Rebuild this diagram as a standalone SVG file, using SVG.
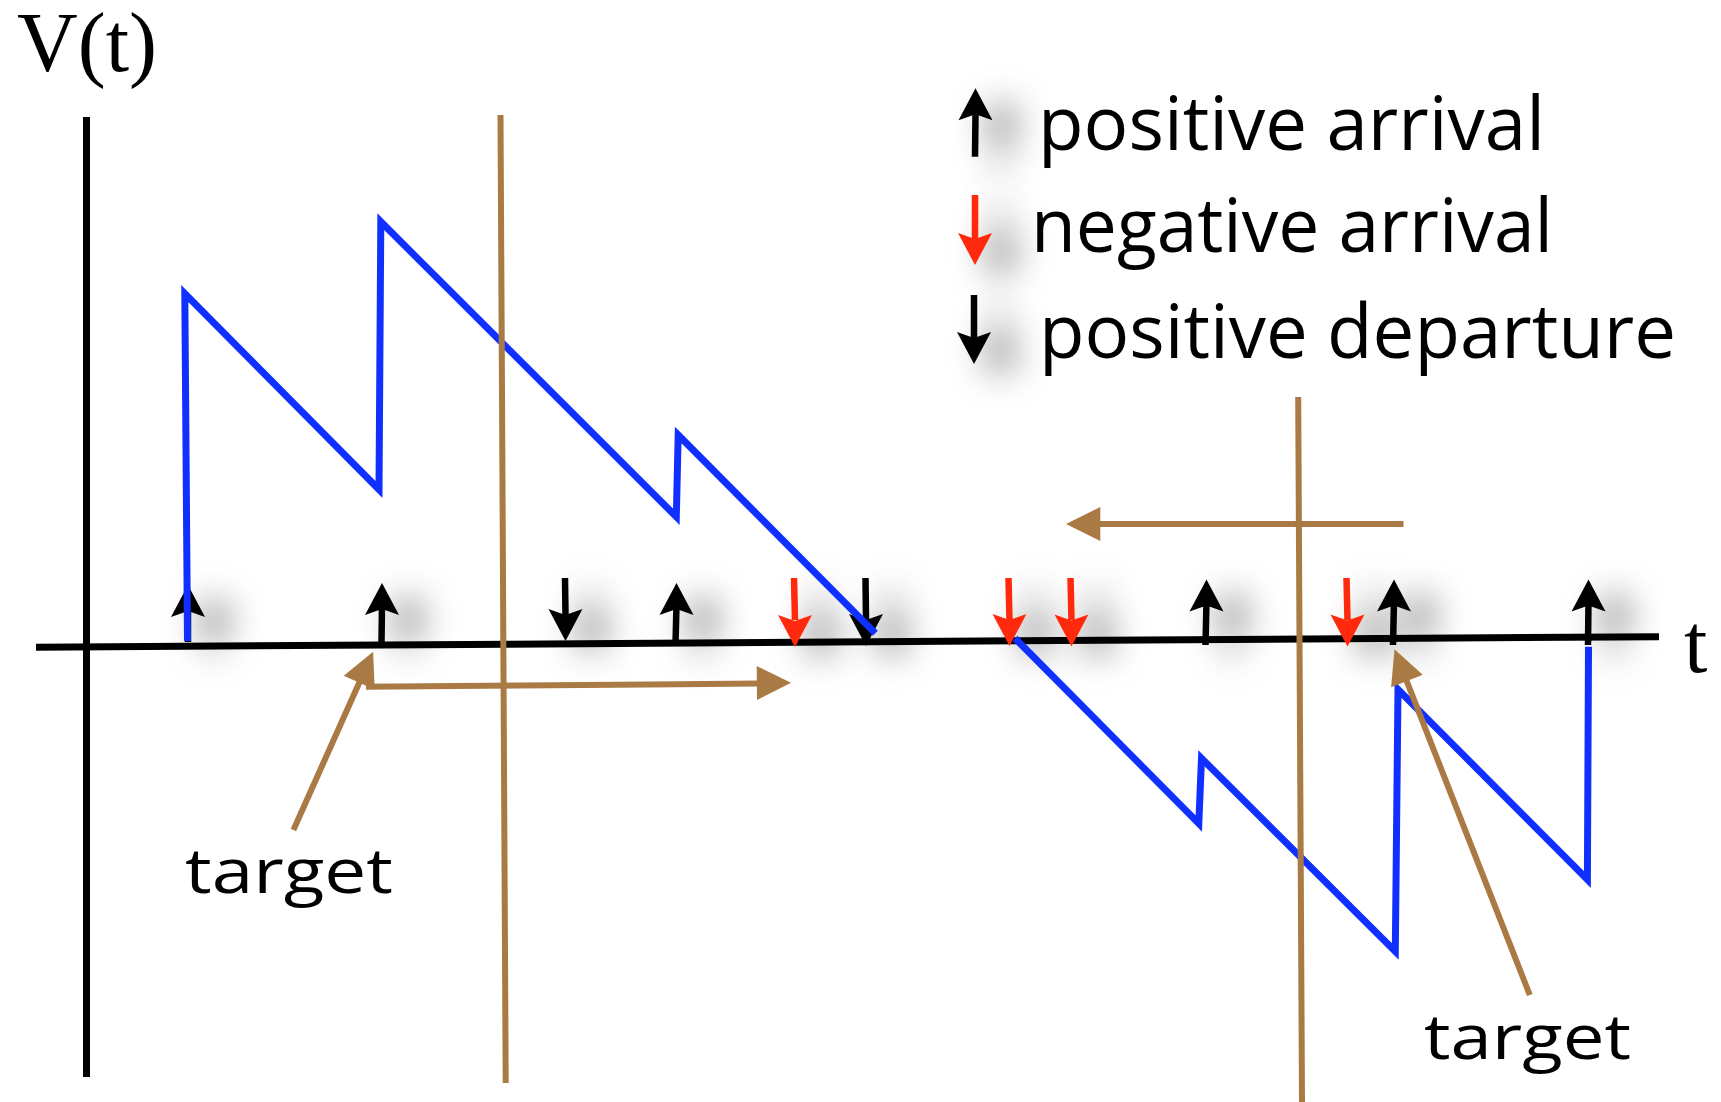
<svg xmlns="http://www.w3.org/2000/svg" width="1721" height="1102" viewBox="0 0 1721 1102">
<defs>
<style>
.ax{stroke:#000;stroke-width:7;fill:none}
.blue{stroke:#1030ff;stroke-width:7;fill:none;stroke-linejoin:miter}
.br{stroke:#a97a44;stroke-width:6;fill:none}
.brf{fill:#a97a44}
.blk{stroke:#000;stroke-width:6.5}
.blkf{fill:#000}
.red{stroke:#ff2a08;stroke-width:6.5}
.redf{fill:#ff2a08}
.lab{font-family:"Open Sans","Noto Sans","DejaVu Sans",sans-serif;fill:#000}
.ser{font-family:"Liberation Serif","Times New Roman",serif;fill:#000}
</style>
<filter id="sh" x="-300%" y="-150%" width="700%" height="400%">
<feDropShadow dx="26" dy="12" stdDeviation="18" flood-color="#000" flood-opacity="0.75"/>
</filter>
<path id="hUp" d="M0,0 L17,32 L0,26 L-17,32 Z"/>
</defs>
<rect width="1721" height="1102" fill="#fff"/>

<g id="axes">
<line class="ax" x1="86.5" y1="117" x2="86.5" y2="1077"/>
<line class="ax" x1="36" y1="647.2" x2="1659" y2="636.7"/>
<text class="ser" x="17" y="71" font-size="84">V(t)</text>
<text class="ser" x="1684" y="672" font-size="84">t</text>
</g>

<g id="events" filter="url(#sh)">
<g id="up1"><line class="blk" x1="188" y1="642" x2="188" y2="605"/><use href="#hUp" class="blkf" transform="translate(188,585)"/></g>
<g id="up2"><line class="blk" x1="381.5" y1="642" x2="382" y2="605"/><use href="#hUp" class="blkf" transform="translate(382,583)"/></g>
<g id="dn1"><line class="blk" x1="565" y1="578" x2="565.5" y2="615"/><use href="#hUp" class="blkf" transform="translate(565.5,641) rotate(180)"/></g>
<g id="up3"><line class="blk" x1="675.5" y1="644" x2="676.5" y2="605"/><use href="#hUp" class="blkf" transform="translate(676.5,583)"/></g>
<g id="rd1"><line class="red" x1="794" y1="578" x2="795" y2="620"/><use href="#hUp" class="redf" transform="translate(795,647) rotate(180)"/></g>
<g id="dn2"><line class="blk" x1="865.5" y1="578" x2="866" y2="620"/><use href="#hUp" class="blkf" transform="translate(866,646) rotate(180)"/></g>
<g id="rd2"><line class="red" x1="1008.5" y1="578" x2="1009.5" y2="620"/><use href="#hUp" class="redf" transform="translate(1009.5,646) rotate(180)"/></g>
<g id="rd3"><line class="red" x1="1070.5" y1="578" x2="1071.5" y2="620"/><use href="#hUp" class="redf" transform="translate(1071.5,646.5) rotate(180)"/></g>
<g id="up4"><line class="blk" x1="1205.5" y1="645" x2="1206.5" y2="601"/><use href="#hUp" class="blkf" transform="translate(1206.5,579.5)"/></g>
<g id="rd4"><line class="red" x1="1346.5" y1="578" x2="1347.5" y2="620"/><use href="#hUp" class="redf" transform="translate(1347.5,646.5) rotate(180)"/></g>
<g id="up5"><line class="blk" x1="1393" y1="645" x2="1394" y2="601"/><use href="#hUp" class="blkf" transform="translate(1394,579.5)"/></g>
<g id="up6"><line class="blk" x1="1588" y1="645" x2="1588.5" y2="601"/><use href="#hUp" class="blkf" transform="translate(1588.5,579.5)"/></g>
</g>

<g id="waveform">
<polyline class="blue" points="187.5,641 184.8,293.5 379,489.5 380.8,221.7 676.3,516.7 678.2,435 875.3,633.3"/>
<polyline class="blue" points="1015,638.3 1198.8,823.5 1201.5,758.3 1395.3,951.5 1398,689.5 1587.4,879.5 1588.5,646.7"/>
</g>

<g id="guides">
<line class="br" x1="500.5" y1="115" x2="505.7" y2="1083"/>
<line class="br" x1="1298.2" y1="397" x2="1302" y2="1102"/>
<g id="arrowLeft"><line class="br" x1="1403.5" y1="524" x2="1098" y2="524"/><path class="brf" d="M1066,524 L1100.3,507 L1100.3,541 Z"/></g>
<g id="arrowRight"><line class="br" x1="366" y1="686.7" x2="759" y2="683.5"/><path class="brf" d="M791,682.7 L756.7,666 L757,700 Z"/></g>
<g id="target1Arrow"><line class="br" x1="293.4" y1="830" x2="360" y2="681"/><path class="brf" d="M373.1,651.7 L374.7,689.6 L343.7,675.8 Z"/></g>
<g id="target2Arrow"><line class="br" x1="1529.8" y1="995" x2="1405.5" y2="678"/><path class="brf" d="M1394.5,649.3 L1422.7,674.8 L1391.1,687.2 Z"/></g>
</g>

<g id="labels">
<text class="lab" x="185" y="893.3" font-size="62" textLength="208" lengthAdjust="spacingAndGlyphs">target</text>
<text class="lab" x="1424" y="1059.3" font-size="62" textLength="207" lengthAdjust="spacingAndGlyphs">target</text>
</g>

<g id="legend">
<g id="legUp" filter="url(#sh)"><line class="blk" x1="975" y1="156.7" x2="975.5" y2="114"/><use href="#hUp" class="blkf" transform="translate(975.5,88.3)"/></g>
<text class="lab" x="1038" y="150" font-size="75" textLength="507" lengthAdjust="spacingAndGlyphs">positive arrival</text>
<g id="legRed" filter="url(#sh)"><line class="red" x1="975" y1="195" x2="975" y2="239"/><use href="#hUp" class="redf" transform="translate(975,265) rotate(180)"/></g>
<text class="lab" x="1031" y="251.7" font-size="75" textLength="522" lengthAdjust="spacingAndGlyphs">negative arrival</text>
<g id="legDn" filter="url(#sh)"><line class="blk" x1="974" y1="295" x2="974" y2="338"/><use href="#hUp" class="blkf" transform="translate(974,364) rotate(180)"/></g>
<text class="lab" x="1039" y="358.3" font-size="75" textLength="637" lengthAdjust="spacingAndGlyphs">positive departure</text>
</g>
</svg>
